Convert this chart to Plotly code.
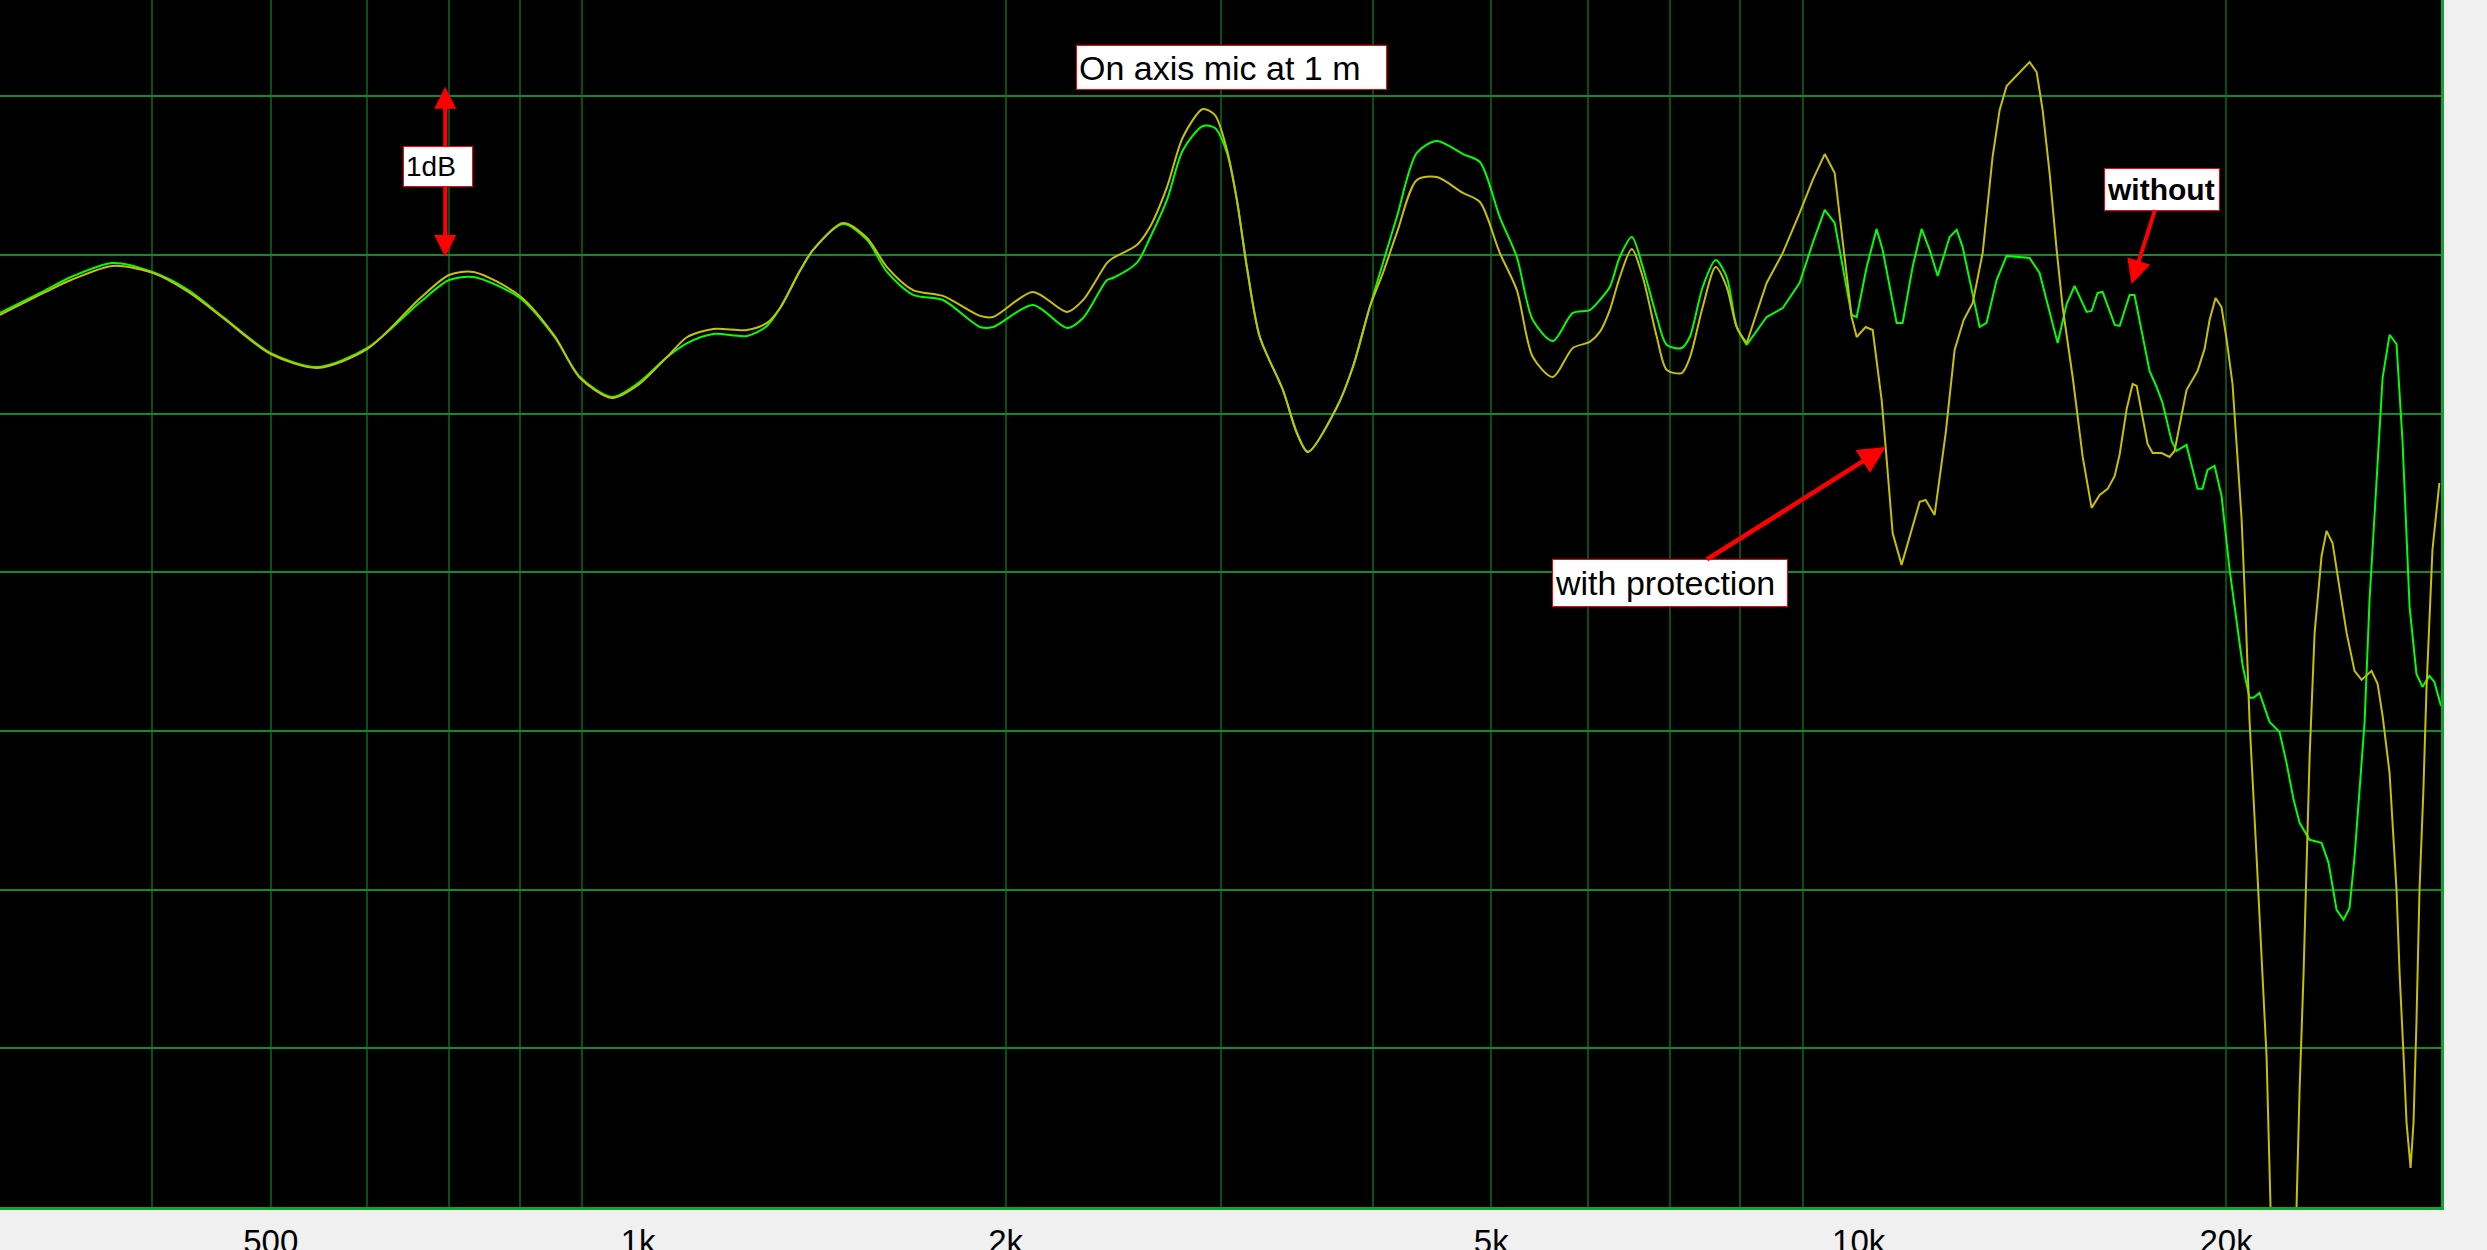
import math
import plotly.graph_objects as go

# Frequencies (Hz) shared by both curves below ~8 kHz
freq_low = [300, 327, 343, 371, 400, 428, 457, 500, 546, 600, 663, 700,
            733, 800, 854, 896, 952, 1000, 1056, 1097, 1152, 1228, 1275,
            1307, 1358, 1391, 1472, 1540, 1599, 1680, 1777, 1906, 1953,
            2106, 2246, 2315, 2422, 2449, 2562, 2626, 2712, 2795, 2902,
            2969, 3037, 3094, 3153, 3231, 3375, 3465, 3538, 3737, 3851,
            3976, 4076, 4184, 4345, 4512, 4740, 4894, 5081, 5247, 5408,
            5616, 5832, 6021, 6136, 6253, 6372, 6518, 6654, 6833, 6963,
            7161, 7271, 7451, 7636, 7796, 7945, 8096]

db_without_low = [-0.365, -0.221, -0.139, -0.050, -0.107, -0.221, -0.391, -0.618, -0.706, -0.586, -0.296, -0.158,
                  -0.139, -0.271, -0.517, -0.769, -0.895, -0.807, -0.643, -0.555, -0.498, -0.510, -0.447,
                  -0.334, -0.095, 0.032, 0.195, 0.095, -0.107, -0.252, -0.284, -0.454, -0.454,
                  -0.315, -0.460, -0.397, -0.158, -0.145, -0.050, 0.107, 0.347, 0.662, 0.813,
                  0.800, 0.643, 0.347, -0.076, -0.517, -0.851, -1.122, -1.241, -0.958, -0.706,
                  -0.328, -0.050, 0.239, 0.643, 0.718, 0.636, 0.586, 0.239, -0.013, -0.410,
                  -0.542, -0.365, -0.347, -0.284, -0.202, -0.013, 0.113, -0.076, -0.391, -0.567,
                  -0.586, -0.517, -0.202, -0.032, -0.139, -0.454, -0.567]

db_with_low = [-0.378, -0.233, -0.158, -0.069, -0.113, -0.233, -0.397, -0.624, -0.712, -0.592, -0.271, -0.126,
               -0.107, -0.258, -0.510, -0.775, -0.901, -0.819, -0.643, -0.517, -0.466, -0.473, -0.428,
               -0.334, -0.095, 0.032, 0.202, 0.107, -0.076, -0.221, -0.258, -0.384, -0.391,
               -0.233, -0.359, -0.284, -0.050, -0.019, 0.063, 0.176, 0.428, 0.744, 0.920,
               0.882, 0.662, 0.347, -0.076, -0.517, -0.851, -1.122, -1.241, -0.958, -0.706,
               -0.328, -0.113, 0.139, 0.473, 0.491, 0.391, 0.334, 0.013, -0.221, -0.643,
               -0.769, -0.586, -0.548, -0.485, -0.347, -0.139, 0.038, -0.139, -0.517, -0.725,
               -0.744, -0.649, -0.328, -0.076, -0.202, -0.454, -0.555]

# "without" (green) above 8 kHz
freq_without_high = [8406, 8666, 8947, 9170, 9380, 9557, 9703, 9868, 9963, 10152,
                     10344, 10463, 10743, 10864, 11071, 11261, 11432, 11607, 11872, 12031,
                     12167, 12563, 12729, 12972, 13219, 13804, 14067, 14336, 14555, 14805,
                     15029, 15373, 15519, 15695, 15844, 16210, 16364, 16672, 16827, 17311,
                     17543, 17742, 18047, 18215, 18561, 18950, 19130, 19311, 19570, 19830,
                     20130, 20631, 20904, 21063, 21302, 21709, 22123, 22416, 22717, 22975,
                     23413, 23948, 24265, 24636, 24962, 25246, 25485, 25727, 25971, 26217,
                     26565, 26871, 27226, 27586, 27899, 28274, 28642, 28967, 29350, 29628,
                     30000]
db_without_high = [-0.391, -0.334, -0.176, 0.076, 0.284, 0.202, -0.076, -0.378, -0.391, -0.076,
                   0.164, 0.032, -0.428, -0.428, -0.076, 0.164, 0.032, -0.132, 0.113, 0.158,
                   0.050, -0.454, -0.428, -0.158, -0.006, -0.019, -0.113, -0.365, -0.555, -0.309,
                   -0.195, -0.359, -0.353, -0.239, -0.233, -0.441, -0.447, -0.252, -0.252, -0.731,
                   -0.832, -0.933, -1.172, -1.235, -1.197, -1.474, -1.474, -1.355, -1.329, -1.519,
                   -1.979, -2.584, -2.791, -2.791, -2.760, -2.943, -3.006, -3.201, -3.434, -3.579,
                   -3.686, -3.705, -3.831, -4.127, -4.190, -4.115, -3.793, -3.371, -2.949, -2.174,
                   -1.418, -0.775, -0.504, -0.561, -1.172, -2.218, -2.640, -2.722, -2.653, -2.691,
                   -2.842]

# "with protection" (yellow) above 8 kHz
freq_with_high = [8406, 8666, 8947, 9170, 9380, 9557, 9703, 9868, 9963,
                  10132, 10268, 10443, 10522, 10662, 10843, 11030, 11220, 11347, 11540,
                  11784, 11984, 12190, 12400, 12636, 12874, 13047, 13219, 13804, 13990,
                  14149, 14336, 14528, 14693, 14974, 15260, 15519, 15756, 15995, 16210,
                  16364, 16580, 16768, 16896, 17248, 17412, 17709, 17977, 18148, 18386,
                  18561, 18950, 19205, 19387, 19607, 19829, 20017, 20245, 20399, 20592,
                  20749, 20904, 21184, 21385, 21588, 21749, 22291, 22843, 22975, 23149,
                  23280, 23413, 23636, 23948, 24175, 24449, 24773, 25106, 25485, 25827,
                  26315, 26618, 26871, 27226, 27586, 27745, 27957, 28112, 28326, 28483,
                  28642, 28808, 29020, 29188, 29520, 29908]
db_with_high = [-0.176, 0.013, 0.265, 0.473, 0.636, 0.517, 0.095, -0.391, -0.517,
                -0.454, -0.473, -0.914, -1.210, -1.752, -1.953, -1.752, -1.556, -1.544, -1.638,
                -1.122, -0.599, -0.410, -0.302, 0.013, 0.618, 0.914, 1.065, 1.216, 1.153,
                0.914, 0.517, 0.032, -0.328, -0.769, -1.273, -1.594, -1.512, -1.474, -1.393,
                -1.254, -0.970, -0.813, -0.825, -1.191, -1.248, -1.248, -1.273, -1.235, -1.014,
                -0.851, -0.731, -0.592, -0.410, -0.271, -0.328, -0.529, -0.813, -1.172, -1.657,
                -2.256, -2.930, -3.793, -4.423, -5.054, -5.999, -7.215, -5.999, -5.261, -4.524,
                -3.894, -3.163, -2.382, -1.897, -1.739, -1.815, -2.098, -2.382, -2.621, -2.678,
                -2.621, -2.703, -2.905, -3.264, -4.001, -4.524, -5.054, -5.469, -5.753, -5.469,
                -4.839, -4.001, -3.371, -2.741, -1.859, -1.437]

tick_vals = [500, 1000, 2000, 5000, 10000, 20000]
tick_text = ["500", "1k", "2k", "5k", "10k", "20k"]
minor_grid = [300, 400, 500, 600, 700, 800, 900,
              2000, 3000, 4000, 5000, 6000, 7000, 8000, 9000,
              20000, 30000]
major_grid = [1000, 10000]

GREEN = "#00ff00"
YELLOW = "#c8c000"
GRID_BRIGHT = "#138a26"
GRID_DARK = "#0b4d16"
BORDER = "#12a22e"
FONT = "Liberation Sans, Arial, sans-serif"

fig = go.Figure()
series = [
    ("without", GREEN, freq_low, db_without_low, freq_without_high, db_without_high),
    ("with protection", YELLOW, freq_low, db_with_low, freq_with_high, db_with_high),
]
for name, color, fl, dl, fh, dh in series:
    # smooth lower band, measured points joined straight in the upper band
    fig.add_trace(go.Scatter(x=fl, y=dl, mode="lines", name=name,
                             line=dict(color=color, width=2, shape="spline", smoothing=0.8)))
    fig.add_trace(go.Scatter(x=[fl[-1]] + fh, y=[dl[-1]] + dh, mode="lines", name=name,
                             line=dict(color=color, width=2)))

shapes = []
for f in major_grid:
    shapes.append(dict(type="line", xref="x", yref="paper", x0=math.log10(f), x1=math.log10(f),
                       y0=0, y1=1, layer="between", line=dict(color=GRID_BRIGHT, width=2)))


def box(text, x, y, w, h, size, **kw):
    d = dict(text=text, x=x, y=y, xref="x", yref="y", showarrow=False,
             font=dict(family=FONT, size=size, color="black"),
             bgcolor="white", bordercolor="red", borderwidth=1, borderpad=2,
             width=w - 6, height=h - 6, align="left", valign="middle")
    d.update(kw)
    return d


annotations = [
    box("On axis mic at 1 m", 3.4861, 1.181, 311, 45, 34),
    dict(x=2.8419, y=-0.013, ax=2.8419, ay=1.07, axref="x", ayref="y", xref="x", yref="y",
         text="", showarrow=True, arrowside="end+start", arrowhead=2, startarrowhead=2,
         arrowsize=1.1, startarrowsize=1.1, arrowwidth=4, arrowcolor="red"),
    box("1dB", 2.8362, 0.558, 70, 41, 28),
    box("with protection", 4.0221, -1.210, 236, 48, 34, showarrow=True, ax=-216, ay=136,
        arrowhead=2, arrowsize=1.2, arrowwidth=4.5, arrowcolor="red"),
    box("<b>without</b>", 4.2236, -0.183, 116, 43, 30, showarrow=True, ax=30, ay=-95,
        arrowhead=2, arrowsize=1.2, arrowwidth=4, arrowcolor="red"),
]

fig.update_layout(
    template="none",
    width=2487, height=1250,
    margin=dict(l=0, r=46, t=0, b=43, pad=0),
    paper_bgcolor="#f0f0f0",
    plot_bgcolor="black",
    showlegend=False,
    shapes=shapes,
    annotations=annotations,
    xaxis=dict(type="log", range=[math.log10(300), math.log10(30000)],
               tickvals=tick_vals, ticktext=tick_text, showgrid=False,
               ticks="", ticklabelstandoff=3, automargin=False,
               tickfont=dict(family=FONT, size=33, color="black"),
               minor=dict(tickvals=minor_grid, showgrid=True, gridcolor=GRID_DARK,
                          gridwidth=2, ticks=""),
               showline=True, linecolor=BORDER, linewidth=3, zeroline=False),
    yaxis=dict(range=[-6, 1.607], dtick=1, tick0=0, showgrid=True, gridcolor=GRID_BRIGHT,
               gridwidth=2, showticklabels=False, ticks="", zeroline=False, side="right",
               showline=True, linecolor=BORDER, linewidth=3, automargin=False),
)

fig.write_html("out.html", config={"displayModeBar": False},
               post_script="document.body.style.margin='0';document.body.style.overflow='hidden';")
